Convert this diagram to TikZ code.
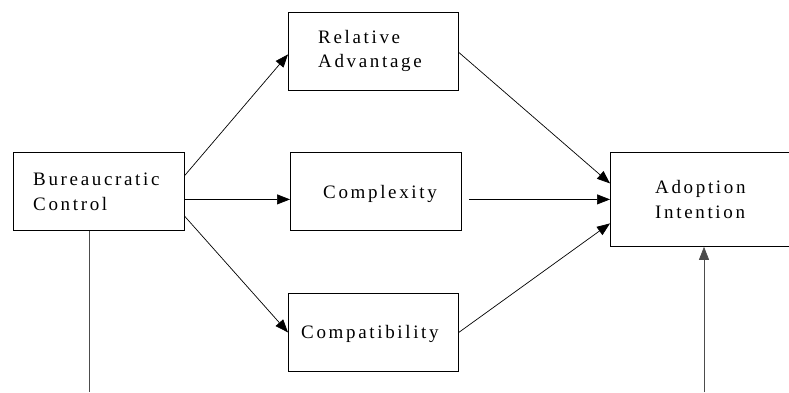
\documentclass[tikz,border=0pt]{standalone}
\usepackage{fontspec}
\setmainfont{Liberation Serif}[LetterSpace=14]
\usetikzlibrary{arrows.meta}
\begin{document}
\begin{tikzpicture}[x=1pt,y=-1pt,
  box/.style={draw=black,line width=0.8pt,minimum width=#1,inner sep=0pt,anchor=north west},
  lbl/.style={anchor=base west,inner sep=0pt,font=\fontsize{19}{25}\selectfont},
  arr/.style={line width=0.7pt,-{Triangle[length=13pt,width=10pt]}},
  ln/.style={line width=0.8pt,draw=black!70}]
\useasboundingbox (0,0) rectangle (789,392);
\clip (0,0) rectangle (789,392);
\node[box=171pt,minimum height=78pt] (bc) at (13,152) {};
\node[box=170pt,minimum height=78pt] (ra) at (288,12) {};
\node[box=171pt,minimum height=78pt] (cx) at (290,152) {};
\node[box=170pt,minimum height=78pt] (cp) at (288,293) {};
\node[box=190pt,minimum height=94pt] (ai) at (610,152) {};
\node[lbl] (bct1) at (33,185) {Bureaucratic};
\node[lbl] (bct2) at (33,210) {Control};
\node[lbl] (rat1) at (318,43) {Relative};
\node[lbl] (rat2) at (318,67) {Advantage};
\node[lbl] (cxt) at (323,198) {Complexity};
\node[lbl] (cpt) at (301,338) {Compatibility};
\node[lbl] (ait1) at (655,193) {Adoption};
\node[lbl] (ait2) at (655,218) {Intention};
\coordinate (b1) at (89,392);
\coordinate (b2) at (704,392);
\draw[arr] ([yshift=16pt]bc.east) -- ([yshift=-3pt]ra.west);
\draw[arr] ([yshift=-8pt]bc.east) -- ([yshift=-8pt]cx.west);
\draw[arr] ([yshift=-25pt]bc.east) -- (cp.west);
\draw[arr] ([yshift=-1pt]ra.east) -- ([yshift=16pt]ai.west);
\draw[arr] ([xshift=7pt,yshift=-8pt]cx.east) -- (ai.west);
\draw[arr] (cp.east) -- ([yshift=-24pt]ai.west);
\draw[ln] (bc.south -| b1) -- (b1);
\draw[arr,draw=black!70,fill=black] (b2) -- (b2 |- ai.south);
\end{tikzpicture}
\end{document}
